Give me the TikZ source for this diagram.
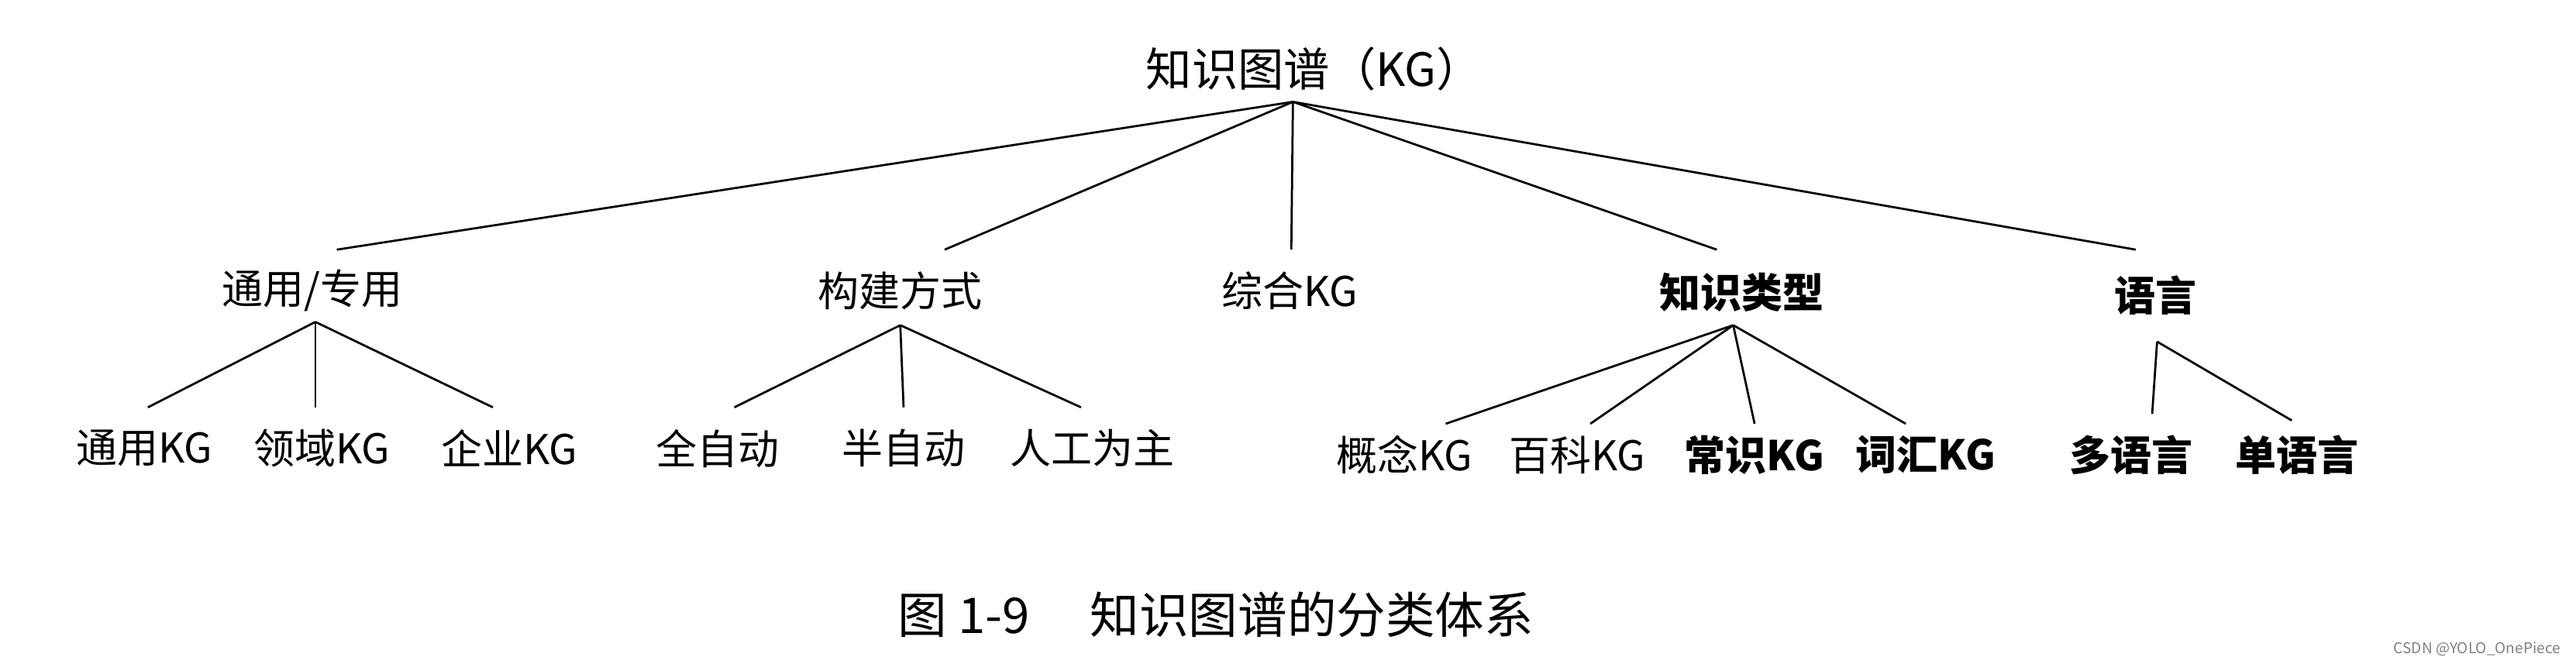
\documentclass[tikz,border=0pt]{standalone}
\usepackage{fontspec}
\setmainfont{Noto Sans CJK SC}
\begin{document}
\begin{tikzpicture}[x=1pt,y=-1pt,
  lab/.style={font=\fontsize{25}{28}\selectfont, inner sep=2pt},
  blab/.style={lab, font=\fontsize{25}{28}\selectfont\bfseries},
  ln/.style={line width=1.3pt}]
\useasboundingbox (0,0) rectangle (1568,404);
\node[lab,font=\fontsize{28}{30}\selectfont] (root) at (800,42) {知识图谱（KG）};
\node[lab] (a) at (190,177) {通用/专用};
\node[lab] (b) at (548,177) {构建方式};
\node[lab] (c) at (785,177) {综合KG};
\node[blab] (d) at (1060,178) {知识类型};
\node[blab] (e) at (1312,180) {语言};
\node[lab] (a1) at (88,273) {通用KG};
\node[lab] (a2) at (196,273) {领域KG};
\node[lab] (a3) at (310,273) {企业KG};
\node[lab] (b1) at (437,273) {全自动};
\node[lab] (b2) at (550,273) {半自动};
\node[lab] (b3) at (665,273) {人工为主};
\node[lab] (d1) at (855,277) {概念KG};
\node[lab] (d2) at (960,277) {百科KG};
\node[blab] (d3) at (1068,277) {常识KG};
\node[blab] (d4) at (1172,277) {词汇KG};
\node[blab] (e1) at (1297,277) {多语言};
\node[blab] (e2) at (1398,277) {单语言};
\node[font=\fontsize{30}{32}\selectfont] (cap) at (740,374) {图 1-9\quad\ 知识图谱的分类体系};
\node[font=\fontsize{9}{10}\selectfont, text=gray, anchor=east] (wm) at (1562,395) {CSDN @YOLO\_OnePiece};
\coordinate (r0) at (787,62);
\foreach \t/\x in {a/205,b/575,c/786,d/1045,e/1300} \draw[ln] (r0) -- (\x,152);
\coordinate (ra) at (192,196);
\foreach \x in {90,192,300} \draw[ln] (ra) -- (\x,248);
\coordinate (rb) at (548,198);
\foreach \x in {447,550,658} \draw[ln] (rb) -- (\x,248);
\coordinate (rd) at (1055,198);
\foreach \x in {880,968,1068,1160} \draw[ln] (rd) -- (\x,258);
\coordinate (re1) at (1313,208);
\draw[ln] (re1) -- (1310,252);
\draw[ln] (re1) -- (1395,256);
\end{tikzpicture}
\end{document}
